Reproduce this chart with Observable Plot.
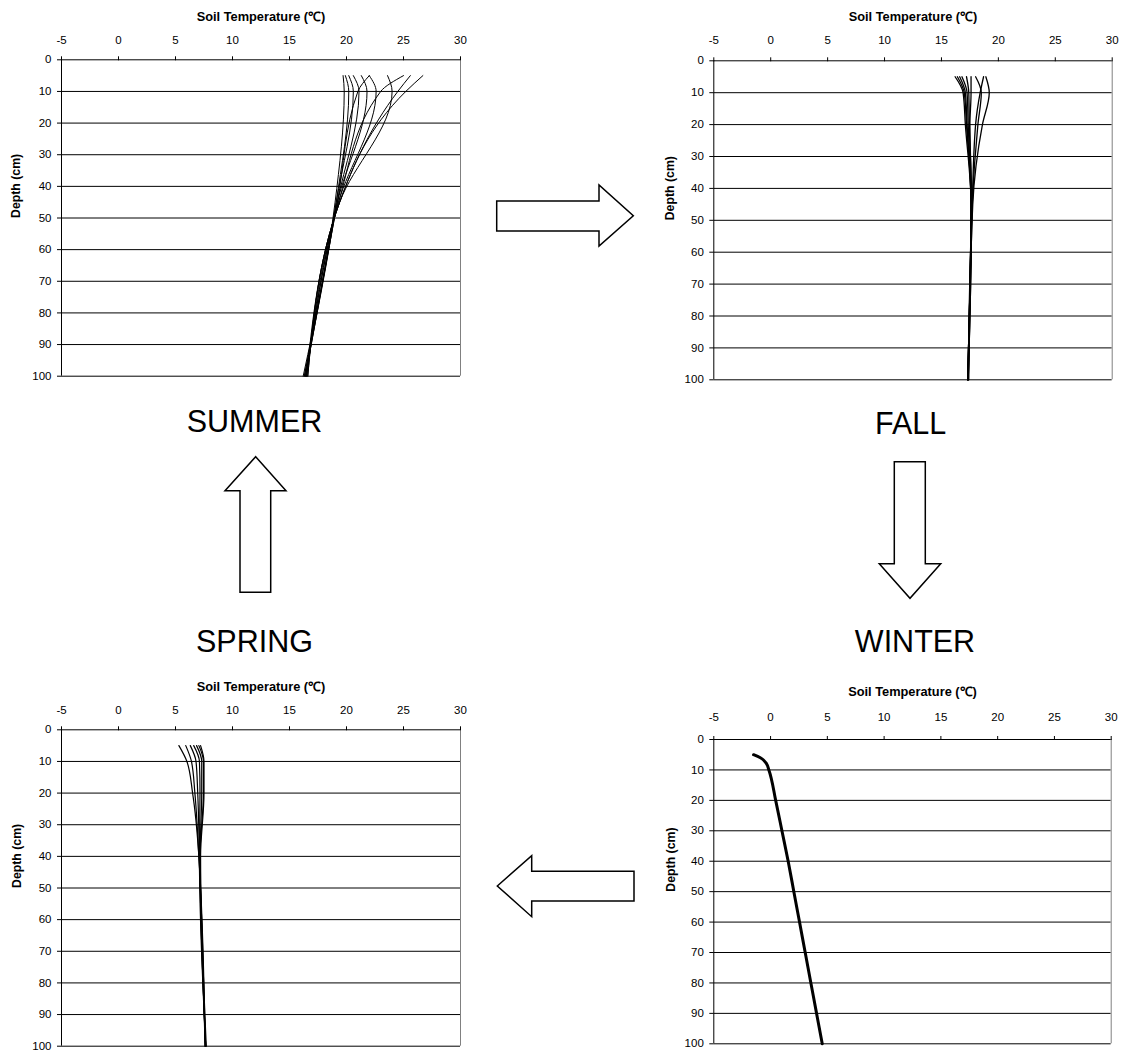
<!DOCTYPE html>
<html>
<head>
<meta charset="utf-8">
<script src="https://cdn.jsdelivr.net/npm/d3@7"></script>
<script src="https://cdn.jsdelivr.net/npm/@observablehq/plot@0.6"></script>
<style>
  html, body { margin: 0; padding: 0; background: #fff; }
  #page { position: relative; width: 1128px; height: 1053px; font-family: "Liberation Sans", Arial, sans-serif; }
  .panel { position: absolute; }
  #arrows { position: absolute; left: 0; top: 0; }
</style>
</head>
<body>
<div id="page"></div>
<script>
// ---------------- DATA ----------------
const tempTicks = [-5, 0, 5, 10, 15, 20, 25, 30];
const depthTicks = [0, 10, 20, 30, 40, 50, 60, 70, 80, 90, 100];
const xTitle = "Soil Temperature (℃)";
const yTitle = "Depth (cm)";
const seasonNames = ["SUMMER", "FALL", "WINTER", "SPRING"];

// Summer profiles: temperature (°C) at depths 5, 10, 45, 100 cm
const summerDepths = [5, 10, 45, 100];
const summerProfiles = [
  [19.7, 19.8, 19.0, 16.2],
  [19.9, 20.2, 19.1, 16.3],
  [20.2, 20.6, 19.1, 16.3],
  [20.6, 21.1, 19.2, 16.4],
  [21.3, 21.8, 19.2, 16.4],
  [22.0, 22.6, 19.3, 16.5],
  [22.0, 21.0, 19.2, 16.4],
  [23.6, 24.0, 19.4, 16.5],
  [25.0, 23.0, 19.3, 16.5],
  [25.6, 24.5, 19.4, 16.6],
  [26.7, 25.2, 19.4, 16.6]
];

// Fall profiles at depths 5, 10, 20, 45, 100 cm
const fallDepths = [5, 10, 20, 45, 100];
const fallProfiles = [
  [16.2, 16.9, 17.1, 17.6, 17.3],
  [16.4, 17.0, 17.2, 17.6, 17.3],
  [16.6, 17.1, 17.25, 17.6, 17.3],
  [16.8, 17.25, 17.35, 17.6, 17.3],
  [17.2, 17.4, 17.45, 17.65, 17.35],
  [17.6, 17.6, 17.5, 17.65, 17.35],
  [18.0, 18.5, 18.2, 17.7, 17.35],
  [18.7, 18.4, 18.0, 17.7, 17.35],
  [18.9, 19.2, 18.6, 17.75, 17.4]
];

// Winter profile at depths below
const winterDepths = [5, 6, 8, 10, 20, 30, 40, 50, 60, 70, 80, 90, 100];
const winterProfiles = [
  [-1.5, -0.9, -0.35, -0.15, 0.45, 1.0, 1.55, 2.05, 2.55, 3.05, 3.55, 4.05, 4.55]
];

// Spring profiles at depths 5, 10, 20, 40, 100 cm
const springDepths = [5, 10, 20, 40, 100];
const springProfiles = [
  [5.3, 6.0, 6.5, 7.05, 7.6],
  [5.9, 6.4, 6.7, 7.05, 7.6],
  [6.3, 6.8, 6.95, 7.1, 7.6],
  [6.6, 7.1, 7.15, 7.1, 7.65],
  [6.85, 7.3, 7.3, 7.15, 7.65],
  [7.05, 7.45, 7.45, 7.15, 7.65],
  [7.2, 7.5, 7.5, 7.2, 7.7]
];

// ---------------- LAYOUT ----------------
const panels = [
  {depths: summerDepths, profiles: summerProfiles, left: 0, top: 0, width: 470, height: 385,
   mL: 61, mR: 10, mT: 59.3, mB: 9.3, tickPad: 12, titleDy: -38.6, labelDx: -45, sw: 1},
  {depths: fallDepths, profiles: fallProfiles, left: 660, top: 0, width: 468, height: 390,
   mL: 53.3, mR: 16.3, mT: 60.3, mB: 10.7, tickPad: 13, titleDy: -39.6, labelDx: -44, sw: 1.3},
  {depths: springDepths, profiles: springProfiles, left: 0, top: 670, width: 470, height: 383,
   mL: 61, mR: 10, mT: 59.3, mB: 7.3, tickPad: 12, titleDy: -38.6, labelDx: -44, sw: 1.2},
  {depths: winterDepths, profiles: winterProfiles, left: 660, top: 670, width: 468, height: 383,
   mL: 53.3, mR: 17.3, mT: 69, mB: 9.7, tickPad: 14.3, titleDy: -44, labelDx: -43, sw: 3}
];

const seasonLabels = [
  {text: seasonNames[0], x: 254.5, baseline: 432},
  {text: seasonNames[1], x: 910.7, baseline: 434.3},
  {text: seasonNames[2], x: 915, baseline: 651.7},
  {text: seasonNames[3], x: 254.5, baseline: 651.7}
];

const arrowShapes = [
  [[496.7,201],[599,201],[599,185],[633.3,215.7],[599,246],[599,231],[496.7,231]],
  [[894.3,461.7],[925.3,461.7],[925.3,563.7],[940.7,563.7],[910,598.3],[879.3,563.7],[894.3,563.7]],
  [[497.3,886],[531.7,855.7],[531.7,871.3],[634,871.3],[634,901],[531.7,901],[531.7,916.7]],
  [[255.7,456.7],[286,490.7],[270.7,490.7],[270.7,592.3],[240,592.3],[240,490.7],[225,490.7]]
];

// ---------------- DRAW ----------------
const page = document.getElementById("page");

function buildRows(depths, profiles) {
  const rows = [];
  profiles.forEach((p, i) => p.forEach((t, j) => rows.push({series: i, depth: depths[j], temp: t})));
  return rows;
}

for (const p of panels) {
  const rows = buildRows(p.depths, p.profiles);
  const chart = Plot.plot({
    width: p.width,
    height: p.height,
    marginLeft: p.mL, marginRight: p.mR, marginTop: p.mT, marginBottom: p.mB,
    style: {fontFamily: "'Liberation Sans', Arial, sans-serif", fontSize: "11.5px", color: "#000", background: "transparent", overflow: "visible"},
    x: {domain: [-5, 30]},
    y: {domain: [0, 100], reverse: true},
    marks: [
      Plot.ruleY(depthTicks.filter(d => d > 0), {stroke: "#000", strokeWidth: 1}),
      Plot.ruleX([30], {stroke: "#808080", strokeWidth: 1}),
      Plot.ruleX([-5], {stroke: "#000", strokeWidth: 1}),
      Plot.ruleY([0], {stroke: "#000", strokeWidth: 1}),
      Plot.axisX({anchor: "top", ticks: tempTicks, tickFormat: d => String(d), tickSize: 4, tickPadding: p.tickPad, label: null, stroke: "#000"}),
      Plot.axisY({anchor: "left", ticks: depthTicks, tickFormat: d => String(d), tickSize: 4, tickPadding: 6, label: null, stroke: "#000"}),
      Plot.line(rows, {x: "temp", y: "depth", z: "series", curve: "monotone-y", stroke: "#000", strokeWidth: p.sw}),
      Plot.text([xTitle], {frameAnchor: "top", dy: p.titleDy, lineAnchor: "bottom", fontWeight: "bold", fontSize: 12.8}),
      Plot.text([yTitle], {frameAnchor: "left", dx: p.labelDx, rotate: -90, fontWeight: "bold", fontSize: 12.3})
    ]
  });
  const wrap = document.createElement("div");
  wrap.className = "panel";
  wrap.style.left = p.left + "px";
  wrap.style.top = p.top + "px";
  wrap.appendChild(chart);
  page.appendChild(wrap);
}

// arrows overlay
const svg = d3.select(page).append("svg")
  .attr("id", "arrows").attr("width", 1128).attr("height", 1053);
svg.selectAll("polygon").data(arrowShapes).join("polygon")
  .attr("points", d => d.map(q => q.join(",")).join(" "))
  .attr("fill", "#fff").attr("stroke", "#000").attr("stroke-width", 1.5).attr("stroke-linejoin", "miter");

// season labels (baseline positioned)
svg.selectAll("text").data(seasonLabels).join("text")
  .attr("x", d => d.x).attr("y", d => d.baseline)
  .attr("text-anchor", "middle")
  .attr("font-family", "'Liberation Sans', Arial, sans-serif")
  .attr("font-size", 30.5)
  .attr("fill", "#000")
  .text(d => d.text);
</script>
</body>
</html>
